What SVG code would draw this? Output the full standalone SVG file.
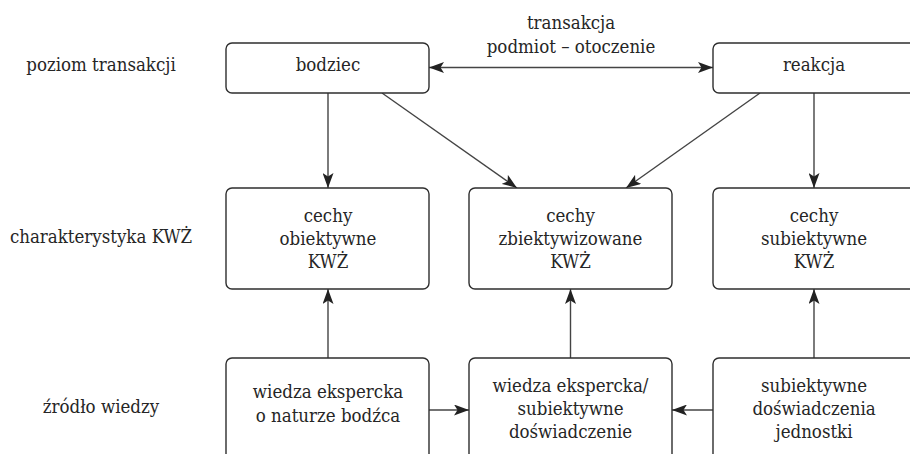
<svg xmlns="http://www.w3.org/2000/svg" width="910" height="454" viewBox="0 0 910 454">
  <defs>
    <marker id="arrow" markerUnits="userSpaceOnUse" markerWidth="15" markerHeight="11" refX="15" refY="5.5" orient="auto-start-reverse" viewBox="0 0 15 11">
      <path d="M0,0 L15,5.5 L0,11 L3.5,5.5 z" fill="#222222"/>
    </marker>
    <style>
      text { font-family: "DejaVu Serif Condensed", "DejaVu Serif", serif; font-stretch: condensed; font-size: 18.5px; fill: #262626; text-anchor: middle; }
      .box { fill: #ffffff; stroke: #2e2e2e; stroke-width: 1.4; }
      .conn { fill: none; stroke: #444444; stroke-width: 1.4; }
    </style>
  </defs>
  <rect width="910" height="454" fill="#ffffff"/>

  <!-- row labels -->
  <g id="row-labels">
    <text x="101" y="71">poziom transakcji</text>
    <text x="101" y="243">charakterystyka KWŻ</text>
    <text x="101" y="413">źródło wiedzy</text>
  </g>

  <!-- connectors -->
  <g id="connectors">
    <line class="conn" x1="429" y1="67.5" x2="713" y2="67.5" marker-start="url(#arrow)" marker-end="url(#arrow)"/>
    <line class="conn" x1="328" y1="93" x2="328" y2="188" marker-end="url(#arrow)"/>
    <line class="conn" x1="814" y1="93" x2="814" y2="188" marker-end="url(#arrow)"/>
    <line class="conn" x1="382" y1="93" x2="517" y2="188" marker-end="url(#arrow)"/>
    <line class="conn" x1="760" y1="93" x2="626" y2="188" marker-end="url(#arrow)"/>
    <line class="conn" x1="328" y1="358" x2="328" y2="289" marker-end="url(#arrow)"/>
    <line class="conn" x1="570.5" y1="358" x2="570.5" y2="289" marker-end="url(#arrow)"/>
    <line class="conn" x1="814" y1="358" x2="814" y2="289" marker-end="url(#arrow)"/>
    <line class="conn" x1="429" y1="410" x2="469" y2="410" marker-end="url(#arrow)"/>
    <line class="conn" x1="713" y1="410" x2="672" y2="410" marker-end="url(#arrow)"/>
  </g>
  <g id="label-transakcja">
    <text x="571" y="29">transakcja</text>
    <text x="571" y="53">podmiot – otoczenie</text>
  </g>

  <!-- top row -->
  <g id="bodziec">
    <rect class="box" x="226" y="43" width="203" height="50" rx="6"/>
    <text x="328" y="71">bodziec</text>
  </g>
  <g id="reakcja">
    <rect class="box" x="713" y="43" width="203" height="50" rx="6"/>
    <text x="814" y="71">reakcja</text>
  </g>

  <!-- middle row -->
  <g id="cechy-obiektywne">
    <rect class="box" x="226" y="188" width="203" height="101" rx="6"/>
    <text x="328" y="222">cechy</text>
    <text x="328" y="245">obiektywne</text>
    <text x="328" y="268">KWŻ</text>
  </g>
  <g id="cechy-zbiektywizowane">
    <rect class="box" x="469" y="188" width="203" height="101" rx="6"/>
    <text x="570.5" y="222">cechy</text>
    <text x="570.5" y="245">zbiektywizowane</text>
    <text x="570.5" y="268">KWŻ</text>
  </g>
  <g id="cechy-subiektywne">
    <rect class="box" x="713" y="188" width="203" height="101" rx="6"/>
    <text x="814" y="222">cechy</text>
    <text x="814" y="245">subiektywne</text>
    <text x="814" y="268">KWŻ</text>
  </g>

  <!-- bottom row -->
  <g id="wiedza-ekspercka">
    <rect class="box" x="226" y="358" width="203" height="110" rx="6"/>
    <text x="328" y="398">wiedza ekspercka</text>
    <text x="328" y="421.5">o naturze bodźca</text>
  </g>
  <g id="wiedza-mieszana">
    <rect class="box" x="469" y="358" width="203" height="110" rx="6"/>
    <text x="570.5" y="391.5">wiedza ekspercka/</text>
    <text x="570.5" y="414.5">subiektywne</text>
    <text x="570.5" y="438">doświadczenie</text>
  </g>
  <g id="doswiadczenia-jednostki">
    <rect class="box" x="713" y="358" width="203" height="110" rx="6"/>
    <text x="814" y="391.5">subiektywne</text>
    <text x="814" y="414.5">doświadczenia</text>
    <text x="814" y="438">jednostki</text>
  </g>
</svg>
